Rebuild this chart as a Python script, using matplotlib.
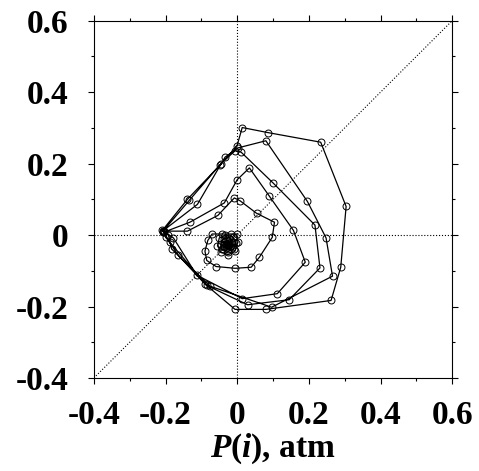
import matplotlib
matplotlib.use("Agg")
import matplotlib.pyplot as plt

plt.rcParams['font.family'] = ['Liberation Serif', 'DejaVu Serif']
plt.rcParams['font.weight'] = 'bold'
plt.rcParams['mathtext.fontset'] = 'custom'
plt.rcParams['mathtext.it'] = 'Liberation Serif:italic:bold'
plt.rcParams['mathtext.rm'] = 'Liberation Serif:bold'

# trayectoria P(i) -> P(i+k) (espiral amortiguada)
p_x = [
    # vuelta 1
    -0.209, -0.139, -0.048, -0.001, 0.014, 0.085, 0.233, 0.304, 0.289, 0.262,
    0.080, -0.006, -0.090, -0.164, -0.199,
    # vuelta 2
    -0.207, -0.111, -0.034, 0.002, 0.080, 0.196, 0.248, 0.266, 0.096, -0.076,
    -0.183, -0.192,
    # vuelta 3
    -0.208, -0.134, -0.046, -0.006, 0.011, 0.101, 0.217, 0.231, 0.145, 0.029,
    -0.085, -0.188,
    # vuelta 4
    -0.205, -0.132, -0.036, 0.000, 0.034, 0.089, 0.157, 0.190, 0.112, 0.014,
    -0.113, -0.178,
    # vuelta 5
    -0.205, -0.139, -0.054, -0.008, 0.008, 0.054, 0.104, 0.098, 0.062, 0.039,
    -0.006, -0.059, -0.085, -0.090, -0.082, -0.070, -0.043, -0.017, -0.001,
    # nucleo
    0.002, -0.006, -0.025, -0.045, -0.055, -0.050, -0.033, -0.012, -0.004, -0.010,
    -0.026, -0.042, -0.046, -0.038, -0.022, -0.012, -0.014, -0.026, -0.037, -0.038,
    -0.029, -0.018, -0.020, -0.029, -0.033, -0.026, -0.022, -0.027, -0.029, -0.025,
]
p_y = [
    0.013, 0.100, 0.196, 0.248, 0.301, 0.287, 0.260, 0.080, -0.090, -0.183,
    -0.208, -0.208, -0.137, -0.057, -0.006,
    0.012, 0.086, 0.218, 0.244, 0.264, 0.094, -0.008, -0.115, -0.202, -0.143,
    -0.039, 0.000,
    0.010, 0.097, 0.199, 0.236, 0.232, 0.145, 0.028, -0.092, -0.181, -0.195,
    -0.141, -0.020,
    0.008, 0.036, 0.090, 0.155, 0.188, 0.110, 0.013, -0.076, -0.164, -0.178,
    -0.112, -0.008,
    0.011, 0.011, 0.055, 0.104, 0.096, 0.061, 0.036, -0.006, -0.062, -0.090,
    -0.093, -0.088, -0.071, -0.045, -0.015, 0.003, 0.003, 0.003, 0.003,
    -0.020, -0.045, -0.055, -0.048, -0.030, -0.008, 0.000, -0.005, -0.022, -0.040,
    -0.046, -0.040, -0.024, -0.010, -0.008, -0.018, -0.033, -0.039, -0.032, -0.020,
    -0.014, -0.020, -0.031, -0.033, -0.025, -0.021, -0.027, -0.029, -0.024, -0.024,
]

ticks = [-0.4, -0.2, 0.0, 0.2, 0.4, 0.6]
tick_labels = ["-0.4", "-0.2", "0", "0.2", "0.4", "0.6"]
minor_ticks = [-0.3, -0.1, 0.1, 0.3, 0.5]

fig = plt.figure(figsize=(4.79, 4.71), dpi=100)
ax = fig.add_axes([0.196, 0.1975, 0.748, 0.7585])

# lineas de referencia punteadas
ax.axvline(0, color='black', lw=0.8, ls=':')
ax.axhline(0, color='black', lw=0.8, ls=':')
ax.plot([-0.4, 0.6], [-0.4, 0.6], color='black', lw=0.8, ls=':')

ax.plot(p_x, p_y, color='black', lw=0.9, marker='o', markersize=5,
        markerfacecolor='none', markeredgecolor='black', markeredgewidth=0.7)

ax.set_xlim(-0.4, 0.6)
ax.set_ylim(-0.4, 0.6)
ax.set_xticks(ticks)
ax.set_xticklabels(tick_labels)
ax.set_yticks(ticks)
ax.set_yticklabels(tick_labels)
ax.set_xticks(minor_ticks, minor=True)
ax.set_yticks(minor_ticks, minor=True)

ax.tick_params(which='both', direction='out', top=True, right=True, width=0.8)
ax.tick_params(which='major', length=4.5, labelsize=24)
ax.tick_params(axis='x', which='major', pad=11)
ax.tick_params(axis='y', which='major', pad=14)
ax.tick_params(which='minor', length=2.5)
for s in ax.spines.values():
    s.set_linewidth(0.8)

ax.set_xlabel(r'$P(i)$, atm', fontsize=24, fontweight='bold', labelpad=1)

fig.savefig('out.png', dpi=100)
